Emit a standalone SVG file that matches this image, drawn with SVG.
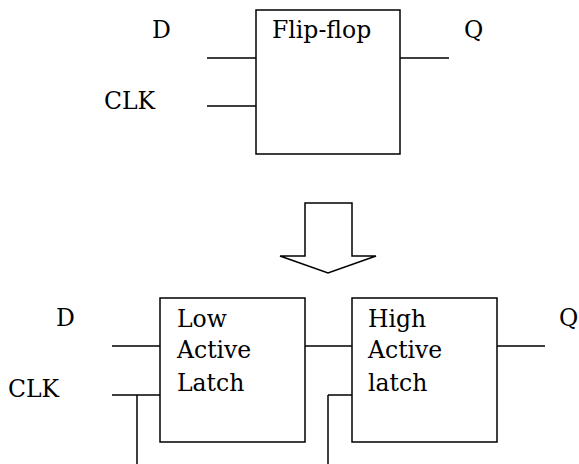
<svg xmlns="http://www.w3.org/2000/svg" width="579" height="464" viewBox="0 0 579 464">
<style>
.box{fill:#fff;stroke:#000;stroke-width:1.5}
.wire{fill:none;stroke:#000;stroke-width:1.5}
text{font-family:'DejaVu Serif','Liberation Serif',serif;font-size:23.5px;fill:#000}
</style>
<rect width="579" height="464" fill="#fff"/>
<g id="connectors">
<path class="wire" d="M207 58H256M207 106H256M400 58H449"/>
<path class="wire" d="M112 346H160M112 395H160M137 395V464"/>
<path class="wire" d="M305 346H352M497 346H545"/>
<path class="wire" d="M328 395H352M328 395V464"/>
</g>
<g id="flipflop">
<rect class="box" x="256" y="10" width="144" height="144"/>
<text x="272" y="38">Flip-flop</text>
</g>
<g id="labels-top">
<text x="152" y="38">D</text>
<text x="104" y="109">CLK</text>
<text x="464" y="38">Q</text>
</g>
<g id="arrow">
<polygon class="box" points="305,203 352,203 352,256 376,256 328,273 280,256 305,256"/>
</g>
<g id="low-latch">
<rect class="box" x="160" y="298" width="145" height="144"/>
<text x="177" y="327">Low</text>
<text x="177" y="358">Active</text>
<text x="177" y="391">Latch</text>
</g>
<g id="high-latch">
<rect class="box" x="352" y="298" width="145" height="144"/>
<text x="368" y="327">High</text>
<text x="368" y="358">Active</text>
<text x="368" y="391">latch</text>
</g>
<g id="labels-bottom">
<text x="56" y="326">D</text>
<text x="8" y="397">CLK</text>
<text x="559" y="326">Q</text>
</g>
</svg>
